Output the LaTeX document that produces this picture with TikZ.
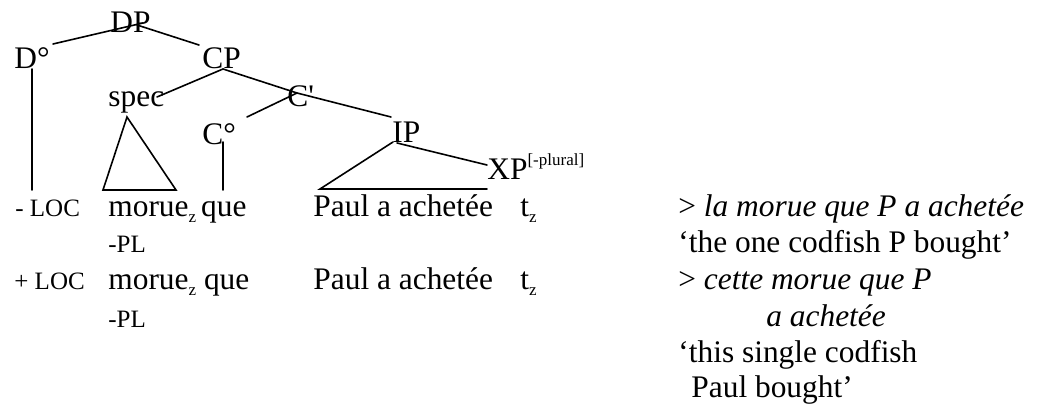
\documentclass[tikz,border=0pt]{standalone}
\usepackage{fontspec}
\setmainfont{Liberation Serif}
\newcommand\mainsz{\fontsize{15.7pt}{18pt}\selectfont}
\newcommand\smsz{\fontsize{12.5pt}{14pt}\selectfont}
\newcommand\msub[1]{\raisebox{-3pt}{\fontsize{8.5pt}{9pt}\selectfont #1}}
\newcommand\msup[1]{\raisebox{7pt}{\fontsize{8.5pt}{9pt}\selectfont #1}}
\newcommand\sq{{\XeTeXglyph\XeTeXcharglyph"0027\relax}}
\tikzset{
  lab/.style={inner sep=0pt, anchor=base west, font=\mainsz},
  sm/.style={inner sep=0pt, anchor=base west, font=\smsz},
  br/.style={line width=0.8pt, line cap=round}
}
\begin{document}
\begin{tikzpicture}[x=0.5pt, y=-0.5pt]
\useasboundingbox (0,0) rectangle (1038,410);
% tree labels
\node[lab] (DP) at (110,33) {DP};
\node[lab] (Do) at (14,69) {D°};
\node[lab] (CP) at (202,69) {CP};
\node[lab] (spec) at (108,107) {spec};
\node[lab] (Cbar) at (287,107) {C\sq};
\node[lab] (Co) at (202,145) {C°};
\node[lab] (IP) at (392,143) {IP};
\node[lab] (XP) at (487,180) {XP\msup{[-plural]}};
% connector end points
\coordinate (DPl) at (143,23);
\coordinate (DPr) at (137,25);
\coordinate (Dotop) at (53,44);
\coordinate (CPtop) at (199,45);
\coordinate (CPbot) at (223,69);
\coordinate (spectop) at (157,97);
\coordinate (Cmid) at (297,93);
\coordinate (Cotop) at (247,117);
\coordinate (IPtop) at (391,117);
\coordinate (IPbot) at (393,142);
\coordinate (IPr) at (397,143);
\coordinate (XPl) at (487,165);
\coordinate (Dline) at (32,69);
\coordinate (Dend) at (32,190);
\coordinate (Coline) at (223,142);
\coordinate (Coend) at (223,190);
\coordinate (tri1a) at (127,117);
\coordinate (tri1l) at (103,190);
\coordinate (tri1r) at (176,190);
\coordinate (tri2l) at (320,189);
\coordinate (tri2r) at (487,189);
% branches
\draw[br] (Dotop) -- (DPl);
\draw[br] (DPr) -- (CPtop);
\draw[br] (CPbot) -- (spectop);
\draw[br] (CPbot) -- (Cmid) -- (IPtop);
\draw[br] (Cotop) -- (Cmid);
\draw[br] (Dline) -- (Dend);
\draw[br] (Coline) -- (Coend);
\draw[br, line join=miter] (tri1a) -- (tri1l) -- (tri1r) -- cycle;
\draw[br] (IPbot) -- (tri2l) -- (tri2r);
\draw[br] (IPr) -- (XPl);
% row 1
\node[sm] (loc1) at (15,217) {- LOC};
\node[lab] (mor1) at (108,217) {morue\msub{z}\hspace{2.5pt}que};
\node[sm] (pl1) at (108,253) {-PL};
\node[lab] (paul1) at (313,217) {Paul a achetée};
\node[lab] (t1) at (520,217) {t\msub{z}};
\node[lab] (gl1) at (678,217) {> \textit{la morue que P a achetée}};
\node[lab] (tr1) at (678,253) {‘the one codfish P bought’};
% row 2
\node[sm] (loc2) at (14,290) {+ LOC};
\node[lab] (mor2) at (108,290) {morue\msub{z} que};
\node[sm] (pl2) at (108,328) {-PL};
\node[lab] (paul2) at (313,290) {Paul a achetée};
\node[lab] (t2) at (520,290) {t\msub{z}};
\node[lab] (gl2) at (678,290) {> \textit{cette morue que P}};
\node[lab] (gl2b) at (766,327) {\textit{a achetée}};
\node[lab] (tr2) at (678,363) {‘this single codfish};
\node[lab] (tr2b) at (691,398) {Paul bought’};
\end{tikzpicture}
\end{document}
